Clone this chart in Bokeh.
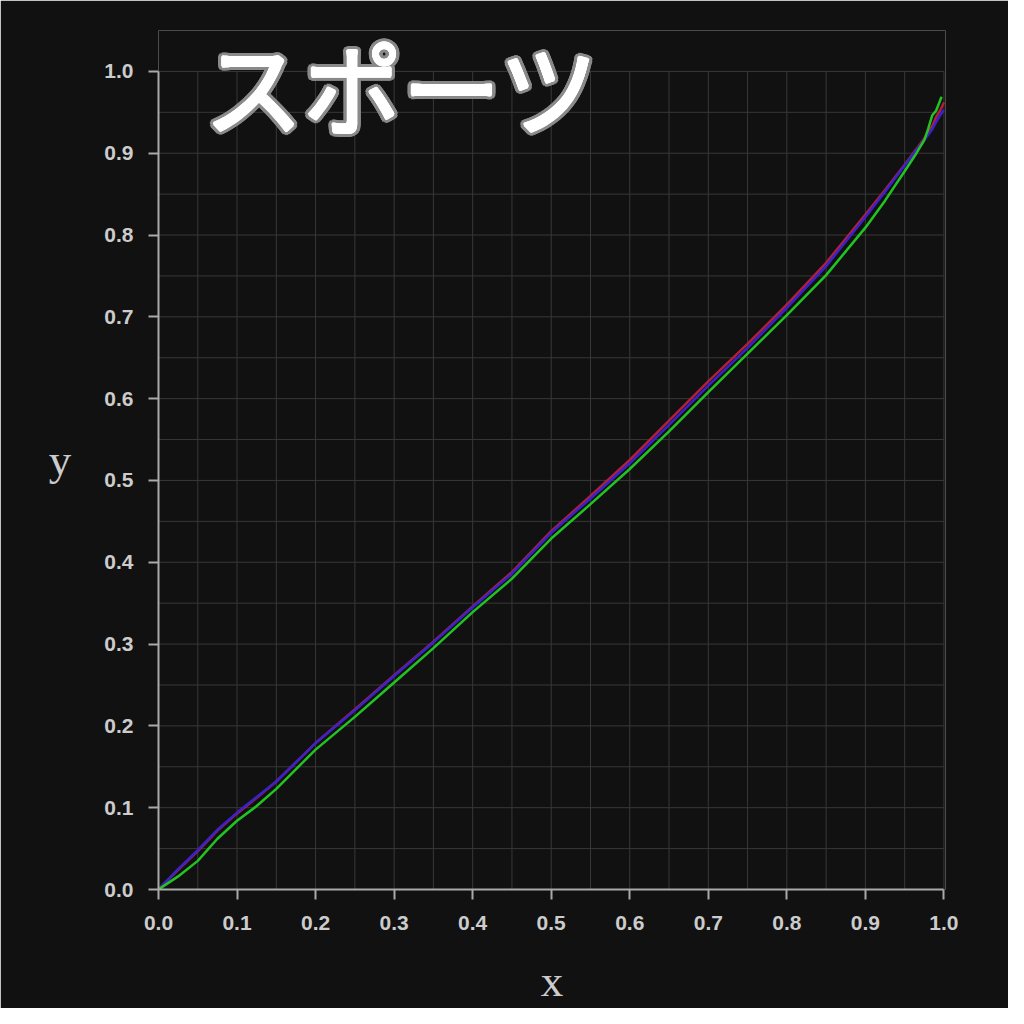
import math
from bokeh.plotting import figure
from bokeh.models import Range1d, SingleIntervalTicker, PrintfTickFormatter, Label, Grid
from bokeh.embed import file_html
from bokeh.resources import INLINE

# ---- data ----
title_text = "スポーツ"
x_label = "x"
y_label = "y"

red_x = [0, 0.025, 0.05, 0.075, 0.1, 0.125, 0.15, 0.2, 0.25, 0.3, 0.35, 0.4, 0.45, 0.5, 0.55,
         0.6, 0.65, 0.7, 0.75, 0.8, 0.85, 0.9, 0.925, 0.95, 0.965, 0.975, 0.985, 0.99, 0.995, 1.0]
red_y = [0, 0.024, 0.047, 0.072, 0.093, 0.112, 0.132, 0.179, 0.220, 0.262, 0.303, 0.346, 0.388, 0.438, 0.481,
         0.525, 0.573, 0.621, 0.667, 0.715, 0.766, 0.825, 0.855, 0.886, 0.905, 0.918, 0.933, 0.944, 0.952, 0.962]

blue_x = [0, 0.025, 0.05, 0.075, 0.1, 0.125, 0.15, 0.2, 0.25, 0.3, 0.35, 0.4, 0.45, 0.5, 0.55,
          0.6, 0.65, 0.7, 0.75, 0.8, 0.85, 0.9, 0.925, 0.95, 0.965, 0.975, 0.985, 0.99, 0.995, 1.0]
blue_y = [0, 0.025, 0.048, 0.073, 0.094, 0.113, 0.132, 0.179, 0.219, 0.261, 0.302, 0.345, 0.386, 0.436, 0.478,
          0.521, 0.568, 0.616, 0.662, 0.711, 0.762, 0.822, 0.853, 0.885, 0.904, 0.916, 0.929, 0.938, 0.946, 0.953]

green_x = [0, 0.025, 0.05, 0.075, 0.1, 0.125, 0.15, 0.2, 0.25, 0.3, 0.35, 0.4, 0.45, 0.5, 0.55,
           0.6, 0.65, 0.7, 0.75, 0.8, 0.85, 0.9, 0.925, 0.95, 0.965, 0.975, 0.98, 0.985, 0.99, 0.997]
green_y = [0, 0.016, 0.035, 0.062, 0.084, 0.102, 0.123, 0.171, 0.211, 0.253, 0.295, 0.339, 0.380, 0.429, 0.471,
           0.514, 0.560, 0.608, 0.655, 0.702, 0.751, 0.809, 0.842, 0.878, 0.900, 0.916, 0.930, 0.946, 0.952, 0.969]

# grid positions (major every 0.1, minor every 0.05)
grid_pos = [0.0, 0.05, 0.1, 0.15, 0.2, 0.25, 0.3, 0.35, 0.4, 0.45, 0.5,
            0.55, 0.6, 0.65, 0.7, 0.75, 0.8, 0.85, 0.9, 0.95, 1.0]

series = [
    (red_x, red_y, "#b0203c"),
    (blue_x, blue_y, "#3a22c8"),
    (green_x, green_y, "#22c422"),
]

BG = "#111111"
GRID = "#383838"
TXT = "#cccccc"
AX_MIN, AX_MAX = 0.0, 1.0
Y_TOP = 1.05  # extra room above 1.0 so the title can overlap the top of the grid

p = figure(width=1008, height=1008, output_backend="svg", toolbar_location=None,
           x_range=Range1d(AX_MIN, 1.002), y_range=Range1d(AX_MIN, Y_TOP),
           min_border_left=158, min_border_right=63, min_border_top=30, min_border_bottom=119)
p.background_fill_color = BG
p.border_fill_color = BG
p.outline_line_color = None
# remove the built-in grids entirely; the grid is drawn below as segments limited to [0, 1]
p.center = [r for r in p.center if not isinstance(r, Grid)]

for ax in (p.xaxis[0], p.yaxis[0]):
    ax.ticker = SingleIntervalTicker(interval=0.1, num_minor_ticks=2)
    ax.formatter = PrintfTickFormatter(format="%.1f")
    ax.bounds = (AX_MIN, AX_MAX)
    ax.axis_line_color = "#aaaaaa"
    ax.axis_line_width = 2
    ax.major_tick_line_color = "#aaaaaa"
    ax.major_tick_line_width = 2
    ax.major_tick_out = 10
    ax.major_tick_in = 0
    ax.minor_tick_line_color = None
    ax.major_label_text_color = TXT
    ax.major_label_text_font = "Liberation Sans"
    ax.major_label_text_font_style = "bold"
    ax.major_label_text_font_size = "21px"
    ax.axis_label_text_color = TXT
    ax.axis_label_text_font = "Liberation Serif"
    ax.axis_label_text_font_style = "normal"
    ax.axis_label_text_font_size = "45px"

p.xaxis.axis_label = x_label
p.yaxis.axis_label = y_label
p.xaxis.major_label_standoff = 16
p.yaxis.major_label_standoff = 15
p.xaxis.axis_label_standoff = 23
p.yaxis.axis_label_standoff = 30
p.yaxis.axis_label_orientation = "horizontal"

n = len(grid_pos)
p.segment(x0=grid_pos, y0=[AX_MIN] * n, x1=grid_pos, y1=[AX_MAX] * n, line_color=GRID, line_width=1)
p.segment(x0=[AX_MIN] * n, y0=grid_pos, x1=[AX_MAX] * n, y1=grid_pos, line_color=GRID, line_width=1)

for xs, ys, c in series:
    p.line(xs, ys, line_color=c, line_width=2.5)

# title with outline
tx, ty = 0.058, 0.984
for k in range(24):
    a = 2 * math.pi * k / 24
    p.add_layout(Label(x=tx, y=ty, text=title_text, x_offset=4.5 * math.cos(a), y_offset=4.5 * math.sin(a),
                       text_font="Noto Sans CJK JP", text_font_size="99px", text_color="#8a8a8a",
                       text_align="left", text_baseline="middle"))
for k in range(12):
    a = 2 * math.pi * k / 12
    p.add_layout(Label(x=tx, y=ty, text=title_text, x_offset=1.2 * math.cos(a), y_offset=1.2 * math.sin(a),
                       text_font="Noto Sans CJK JP", text_font_size="99px", text_color="#ffffff",
                       text_align="left", text_baseline="middle"))

open("out.html", "w").write(file_html(p, INLINE))
